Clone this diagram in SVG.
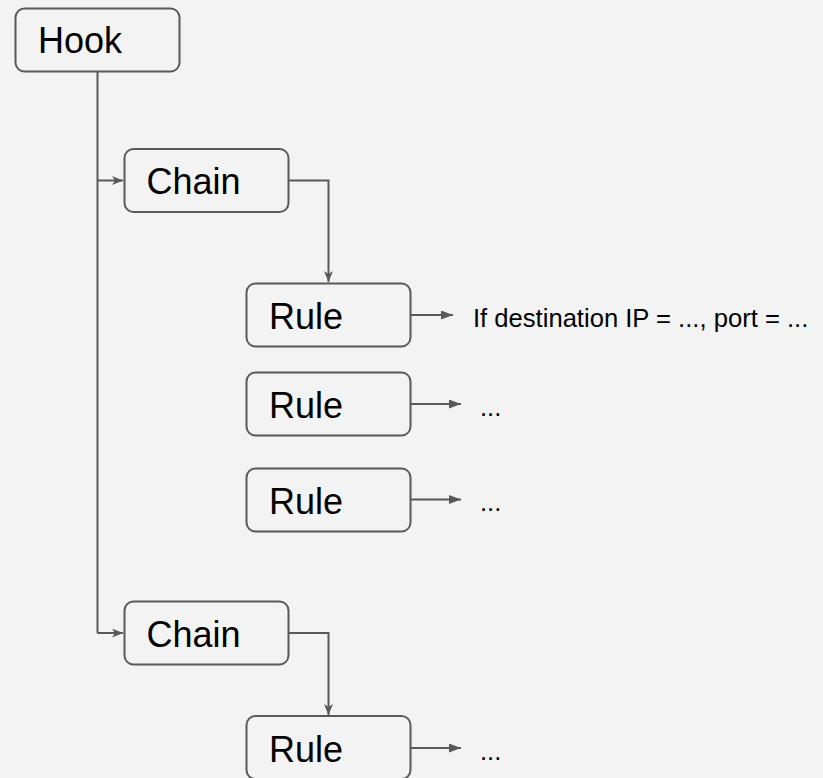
<svg xmlns="http://www.w3.org/2000/svg" width="823" height="778" viewBox="0 0 823 778">
  <style>
    .box { fill: #f3f3f3; stroke: #595959; stroke-width: 2; }
    .big { font-family: "Liberation Sans", Arial, sans-serif; font-size: 36px; fill: #000; }
    .small { font-family: "Liberation Sans", Arial, sans-serif; font-size: 25.6px; fill: #000; }
    .wire { fill: none; stroke: #595959; stroke-width: 2; }
  </style>
  <defs>
    <marker id="notch" viewBox="0 0 11 9" refX="11" refY="4.5" markerWidth="11" markerHeight="9" markerUnits="userSpaceOnUse" orient="auto">
      <path d="M0,0 L11,4.5 L0,9 L3,4.5 Z" fill="#595959"/>
    </marker>
    <marker id="tri" viewBox="0 0 12 9" refX="12" refY="4.5" markerWidth="12" markerHeight="9" markerUnits="userSpaceOnUse" orient="auto">
      <path d="M0,0 L12,4.5 L0,9 Z" fill="#595959"/>
    </marker>
  </defs>
  <rect width="823" height="778" fill="#f3f3f3"/>

  <g id="connectors">
    <!-- hook trunk and branches into the chains -->
    <path class="wire" d="M97.5,71.5 V633"/>
    <path class="wire" d="M97.5,180.5 H123" marker-end="url(#notch)"/>
    <path class="wire" d="M97.5,633 H123" marker-end="url(#notch)"/>
    <!-- chains down to their first rule -->
    <path class="wire" d="M288.5,180.5 H328.5 V282" marker-end="url(#notch)"/>
    <path class="wire" d="M288.5,633 H328.5 V715" marker-end="url(#notch)"/>
    <!-- rule outputs -->
    <path class="wire" d="M410.5,315 H453" marker-end="url(#tri)"/>
    <path class="wire" d="M410.5,404 H461" marker-end="url(#tri)"/>
    <path class="wire" d="M410.5,499.5 H461" marker-end="url(#tri)"/>
    <path class="wire" d="M410.5,748 H461" marker-end="url(#tri)"/>
  </g>

  <g id="hook">
    <rect class="box" x="15.5" y="8.5" width="164" height="63" rx="9"/>
    <text class="big" x="38" y="53">Hook</text>
  </g>

  <g id="chain1">
    <rect class="box" x="124.5" y="149" width="164" height="63" rx="9"/>
    <text class="big" x="146.5" y="193.5">Chain</text>
  </g>

  <g id="rule1">
    <rect class="box" x="246.5" y="283.5" width="164" height="63" rx="9"/>
    <text class="big" x="269" y="329">Rule</text>
  </g>
  <g id="rule1-label">
    <text class="small" x="473" y="326.5">If destination IP = ..., port = ...</text>
  </g>

  <g id="rule2">
    <rect class="box" x="246.5" y="372.5" width="164" height="63" rx="9"/>
    <text class="big" x="269" y="418">Rule</text>
  </g>
  <g id="rule2-label">
    <text class="small" x="480" y="415.5">...</text>
  </g>

  <g id="rule3">
    <rect class="box" x="246.5" y="468.5" width="164" height="63" rx="9"/>
    <text class="big" x="269" y="514">Rule</text>
  </g>
  <g id="rule3-label">
    <text class="small" x="480" y="511">...</text>
  </g>

  <g id="chain2">
    <rect class="box" x="124.5" y="601.5" width="164" height="63" rx="9"/>
    <text class="big" x="146.5" y="646.5">Chain</text>
  </g>

  <g id="rule4">
    <rect class="box" x="246.5" y="716" width="164" height="63" rx="9"/>
    <text class="big" x="269" y="761.5">Rule</text>
  </g>
  <g id="rule4-label">
    <text class="small" x="480" y="760">...</text>
  </g>
</svg>
